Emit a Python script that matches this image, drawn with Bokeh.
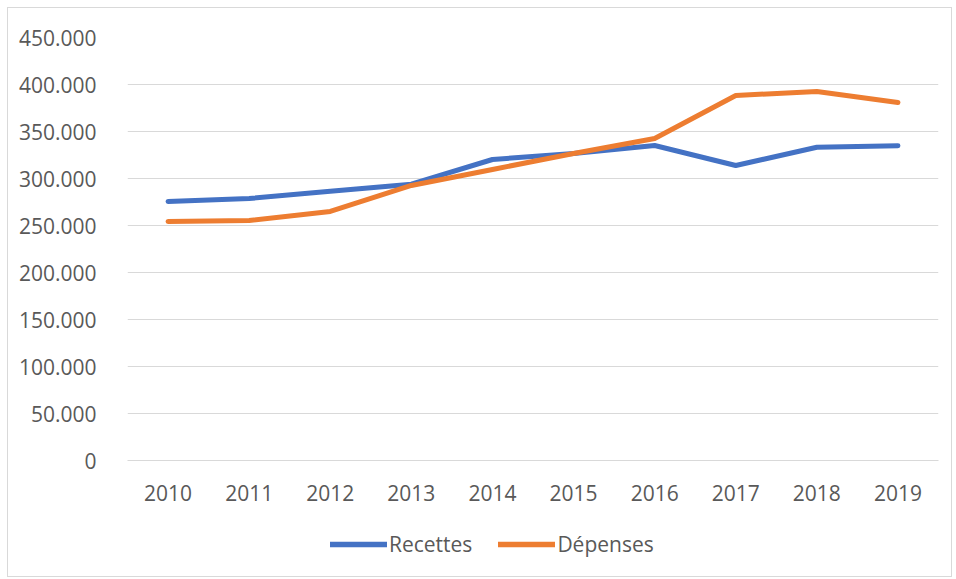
from bokeh.plotting import figure
from bokeh.layouts import column
from bokeh.models import FactorRange, Range1d, FixedTicker, ColumnDataSource, Legend, LegendItem
from bokeh.embed import file_html
from bokeh.resources import INLINE

years = ["2010", "2011", "2012", "2013", "2014", "2015", "2016", "2017", "2018", "2019"]
recettes = [275500, 278700, 286500, 294000, 320200, 326600, 335100, 313800, 333300, 334800]
depenses = [254300, 255300, 264900, 292600, 309600, 326600, 342600, 388300, 392600, 380900]
y_ticks = [0, 50000, 100000, 150000, 200000, 250000, 300000, 350000, 400000, 450000]
y_tick_labels = ["0", "50.000", "100.000", "150.000", "200.000", "250.000",
                 "300.000", "350.000", "400.000", "450.000"]
series_names = ["Recettes", "Dépenses"]
series_colors = ["#4472C4", "#ED7D31"]

FONT = "Open Sans"
TXT = "#595959"
LW = 5

src = ColumnDataSource(dict(x=years, r=recettes, d=depenses))

p = figure(width=943, height=502, output_backend="svg", toolbar_location=None,
           x_range=FactorRange(*years, range_padding=0),
           y_range=Range1d(0, 450000),
           min_border_left=119, min_border_right=13, min_border_top=29, min_border_bottom=50)
p.outline_line_color = None
p.background_fill_color = "white"
p.border_fill_color = "white"

p.line("x", "r", source=src, line_color=series_colors[0], line_width=LW,
       line_cap="round", line_join="round")
p.line("x", "d", source=src, line_color=series_colors[1], line_width=LW,
       line_cap="round", line_join="round")

p.xgrid.grid_line_color = None
p.ygrid.grid_line_color = "#d9d9d9"
p.ygrid.grid_line_width = 1

p.yaxis.ticker = FixedTicker(ticks=y_ticks)
p.yaxis.major_label_overrides = {t: l for t, l in zip(y_ticks, y_tick_labels)}
p.yaxis.axis_line_color = None
p.yaxis.major_tick_line_color = None
p.yaxis.minor_tick_line_color = None
p.yaxis.major_label_standoff = 25
p.yaxis.major_label_text_font = FONT
p.yaxis.major_label_text_font_size = "21px"
p.yaxis.major_label_text_color = TXT

p.xaxis.axis_line_color = "#d9d9d9"
p.xaxis.major_tick_line_color = None
p.xaxis.minor_tick_line_color = None
p.xaxis.major_label_standoff = 18
p.xaxis.major_label_text_font = FONT
p.xaxis.major_label_text_font_size = "21px"
p.xaxis.major_label_text_color = TXT

# legend strip
p2 = figure(width=943, height=66, output_backend="svg", toolbar_location=None,
            x_range=Range1d(0, 1), y_range=Range1d(0, 1),
            min_border_left=0, min_border_right=0, min_border_top=0, min_border_bottom=0)
p2.axis.visible = False
p2.grid.grid_line_color = None
p2.outline_line_color = None
p2.border_fill_color = "white"
items = []
for name, col in zip(series_names, series_colors):
    rr = p2.line(x=[float("nan")], y=[float("nan")], line_color=col, line_width=LW + 0.5,
                 line_cap="round")
    items.append(LegendItem(label=name, renderers=[rr]))

lg = Legend(items=items)
lg.orientation = "horizontal"
lg.location = (203, 18)
lg.padding = 0
lg.margin = 0
lg.border_line_color = None
lg.background_fill_alpha = 0
lg.glyph_width = 57
lg.glyph_height = 24
lg.label_standoff = 2
lg.spacing = 26
lg.label_text_font = FONT
lg.label_text_font_size = "21px"
lg.label_text_color = TXT
p2.add_layout(lg, "center")

layout = column(p, p2, spacing=0)
layout.margin = (7, 0, 0, 7)
layout.styles = {"border": "1px solid #d9d9d9"}

open("out.html", "w").write(file_html(layout, INLINE))
